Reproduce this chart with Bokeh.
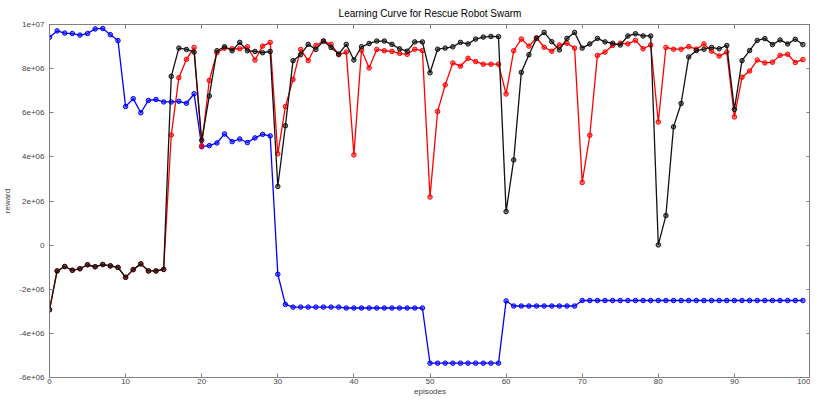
from bokeh.plotting import figure
from bokeh.models import LinearAxis, FixedTicker, Range1d, CustomJSTickFormatter
from bokeh.embed import file_html
from bokeh.resources import INLINE

episodes = list(range(100))

blue_m = [9.42, 9.71, 9.61, 9.59, 9.52, 9.59, 9.80, 9.82, 9.54, 9.27,
          6.28, 6.64, 6.00, 6.56, 6.60, 6.49, 6.49, 6.52, 6.43, 6.86,
          4.46, 4.51, 4.63, 5.04, 4.69, 4.81, 4.65, 4.86, 5.02, 4.95,
          -1.32, -2.69, -2.81, -2.81, -2.81, -2.81, -2.81, -2.81, -2.81, -2.85,
          -2.85, -2.85, -2.85, -2.85, -2.85, -2.85, -2.85, -2.85, -2.85, -2.85,
          -5.35, -5.35, -5.35, -5.35, -5.35, -5.35, -5.35, -5.35, -5.35, -5.35,
          -2.53, -2.76, -2.76, -2.76, -2.76, -2.76, -2.76, -2.76, -2.76, -2.76,
          -2.51, -2.51, -2.51, -2.51, -2.51, -2.51, -2.51, -2.51, -2.51, -2.51,
          -2.51, -2.51, -2.51, -2.51, -2.51, -2.51, -2.51, -2.51, -2.51, -2.51,
          -2.51, -2.51, -2.51, -2.51, -2.51, -2.51, -2.51, -2.51, -2.51, -2.51]

red_m = [-2.93, -1.17, -0.97, -1.14, -1.07, -0.89, -0.98, -0.88, -0.94, -1.01,
         -1.46, -1.11, -0.85, -1.17, -1.17, -1.10, 4.99, 7.59, 8.42, 8.96,
         4.50, 7.46, 8.72, 8.93, 8.90, 8.90, 8.99, 8.39, 9.02, 9.19,
         4.14, 6.28, 7.51, 8.87, 8.36, 9.05, 9.25, 9.10, 8.63, 8.75,
         4.09, 8.84, 8.03, 8.87, 8.81, 8.78, 8.69, 8.65, 8.88, 8.82,
         2.18, 6.06, 7.26, 8.26, 8.11, 8.47, 8.32, 8.20, 8.20, 8.20,
         6.85, 8.81, 9.34, 9.02, 9.40, 8.97, 8.79, 9.07, 9.15, 8.93,
         2.84, 4.98, 8.60, 8.75, 9.05, 9.15, 9.12, 9.28, 8.90, 9.07,
         5.58, 8.96, 8.88, 8.88, 9.00, 8.88, 9.12, 8.79, 8.57, 8.75,
         5.81, 7.61, 7.89, 8.39, 8.26, 8.29, 8.60, 8.65, 8.28, 8.41]

black_m = [-2.93, -1.17, -0.97, -1.14, -1.07, -0.89, -0.98, -0.88, -0.94, -1.01,
           -1.46, -1.11, -0.85, -1.17, -1.17, -1.10, 7.65, 8.93, 8.87, 8.75,
           4.75, 6.76, 8.81, 8.99, 8.81, 9.19, 8.81, 8.78, 8.72, 8.78,
           2.66, 5.41, 8.36, 8.63, 9.10, 8.87, 9.25, 8.96, 8.66, 9.10,
           8.39, 8.99, 9.14, 9.25, 9.25, 9.10, 8.90, 8.79, 9.21, 9.21,
           7.81, 8.88, 8.93, 8.99, 9.19, 9.12, 9.34, 9.43, 9.46, 9.45,
           1.52, 3.86, 7.83, 8.63, 9.37, 9.64, 9.22, 8.85, 9.37, 9.64,
           8.93, 9.12, 9.37, 9.21, 9.15, 9.07, 9.48, 9.58, 9.48, 9.48,
           0.01, 1.34, 5.36, 6.42, 8.53, 8.82, 8.88, 8.96, 8.90, 9.05,
           6.15, 8.36, 8.82, 9.28, 9.36, 9.09, 9.30, 9.12, 9.33, 9.09]

blue = [v * 1e6 for v in blue_m]
red = [v * 1e6 for v in red_m]
black = [v * 1e6 for v in black_m]

x_ticks = [0, 10, 20, 30, 40, 50, 60, 70, 80, 90, 100]
y_ticks = [-6e6, -4e6, -2e6, 0, 2e6, 4e6, 6e6, 8e6, 1e7]
y_tick_labels = ["-6e+06", "-4e+06", "-2e+06", "0", "2e+06", "4e+06", "6e+06", "8e+06", "1e+07"]

FONT = "Liberation Sans"
GRAY = "#808080"

p = figure(width=810, height=398, output_backend="svg", toolbar_location=None,
           x_range=Range1d(0, 100), y_range=Range1d(-6e6, 1e7),
           title="Learning Curve for Rescue Robot Swarm",
           min_border_left=0, min_border_right=0, min_border_top=0, min_border_bottom=0,
           x_axis_label="episodes", y_axis_label="reward")

p.title.align = "center"
p.title.text_font = FONT
p.title.text_font_size = "10px"
p.title.text_font_style = "normal"
p.title.text_color = "#000000"
p.title.standoff = 11
p.title.offset = 0

p.xgrid.visible = False
p.ygrid.visible = False
p.outline_line_color = GRAY
p.outline_line_width = 1
p.background_fill_color = "white"
p.border_fill_color = "white"

p.yaxis.ticker = FixedTicker(ticks=y_ticks)
p.yaxis.major_label_overrides = {t: s for t, s in zip(y_ticks, y_tick_labels)}
p.xaxis.ticker = FixedTicker(ticks=x_ticks)

for ax in [p.xaxis[0], p.yaxis[0]]:
    ax.major_tick_in = 4
    ax.major_tick_out = 0
    ax.minor_tick_in = 0
    ax.minor_tick_out = 0
    ax.major_tick_line_color = GRAY
    ax.axis_line_color = GRAY
    ax.major_label_text_font = FONT
    ax.major_label_text_font_size = "8px"
    ax.major_label_text_color = "#444444"
    ax.axis_label_text_font = FONT
    ax.axis_label_text_font_size = "8px"
    ax.axis_label_text_font_style = "normal"
    ax.axis_label_text_color = "#444444"

p.xaxis.major_label_standoff = 1
p.xaxis.axis_label_standoff = 0
p.yaxis.major_label_standoff = 5
p.yaxis.axis_label_standoff = 4

blank = CustomJSTickFormatter(code="return ''")
ax_r = LinearAxis(ticker=FixedTicker(ticks=y_ticks), formatter=blank,
                  major_tick_in=4, major_tick_out=0, minor_tick_in=0, minor_tick_out=0,
                  major_tick_line_color=GRAY, axis_line_color=GRAY,
                  major_label_standoff=0, major_label_text_font_size="1px")
ax_t = LinearAxis(ticker=FixedTicker(ticks=x_ticks), formatter=blank,
                  major_tick_in=4, major_tick_out=0, minor_tick_in=0, minor_tick_out=0,
                  major_tick_line_color=GRAY, axis_line_color=GRAY,
                  major_label_standoff=0, major_label_text_font_size="1px")
p.add_layout(ax_r, "right")
p.add_layout(ax_t, "above")

series = [(blue, "#0000ff"), (red, "#ff0000"), (black, "#111111")]
for ys, col in series:
    p.line(episodes, ys, line_color=col, line_width=1.3)
    p.scatter(episodes, ys, marker="circle", size=4.5, line_color=col, line_width=1,
              fill_color=col, fill_alpha=0.5)

open("out.html", "w").write(file_html(p, INLINE))
